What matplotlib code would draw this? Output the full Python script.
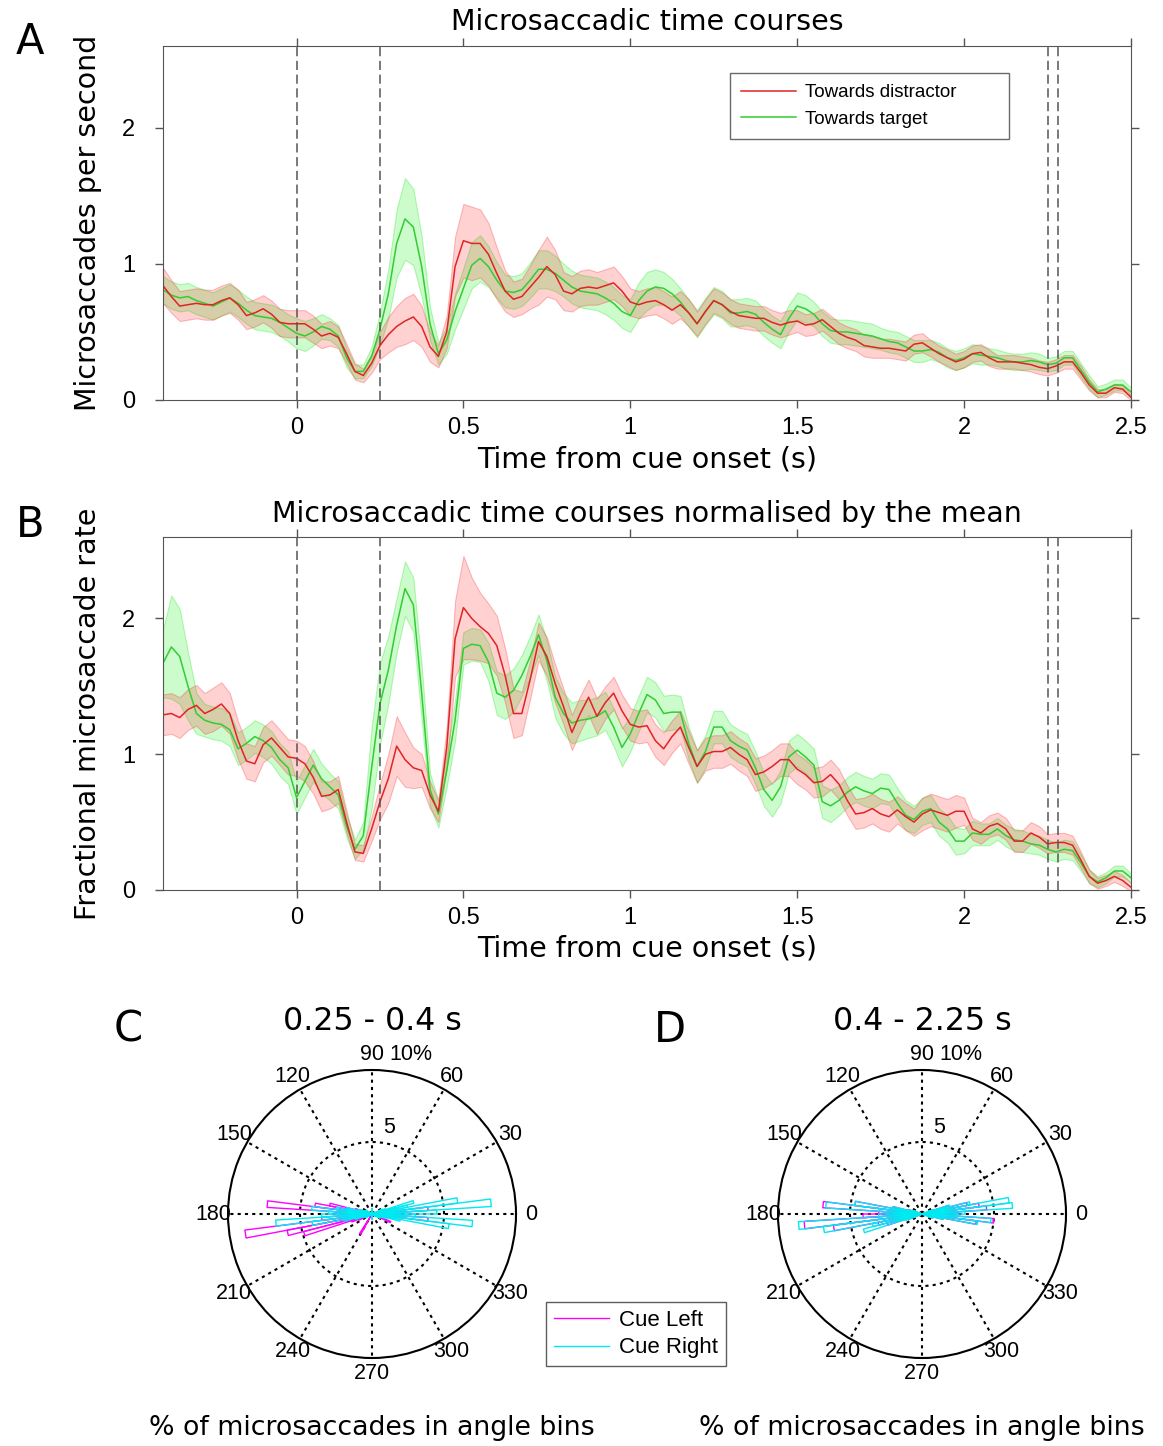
import numpy as np
import matplotlib
matplotlib.use('Agg')
import matplotlib.pyplot as plt
from matplotlib.lines import Line2D

# time axis of the time courses (s from cue onset)
t = np.round(np.arange(-0.4, 2.5 + 1e-9, 0.025), 3)
event_times = [0, 0.25, 2.25, 2.28]

# --- panel A: microsaccades per second (one row = 0.1 s) ---
rate_distractor = [
    0.84, 0.76, 0.69, 0.70,  0.71, 0.70, 0.70, 0.73,  0.75, 0.70, 0.62, 0.64,
    0.67, 0.63, 0.57, 0.56,  0.56, 0.56, 0.52, 0.47,  0.49, 0.46, 0.34, 0.21,
    0.18, 0.27, 0.40, 0.48,  0.54, 0.58, 0.61, 0.54,  0.39, 0.32, 0.50, 0.98,
    1.17, 1.15, 1.15, 1.07,  0.93, 0.80, 0.74, 0.76,  0.83, 0.90, 0.98, 0.92,
    0.80, 0.78, 0.82, 0.83,  0.82, 0.84, 0.86, 0.80,  0.72, 0.70, 0.72, 0.73,
    0.70, 0.66, 0.70, 0.64,  0.56, 0.65, 0.73, 0.70,  0.65, 0.62, 0.61, 0.60,
    0.60, 0.57, 0.55, 0.57,  0.58, 0.55, 0.56, 0.59,  0.54, 0.49, 0.46, 0.44,
    0.40, 0.39, 0.38, 0.38,  0.37, 0.36, 0.41, 0.42,  0.38, 0.34, 0.31, 0.28,
    0.30, 0.34, 0.35, 0.31,  0.28, 0.28, 0.28, 0.27,  0.26, 0.24, 0.23, 0.25,
    0.28, 0.28, 0.20, 0.11,  0.05, 0.05, 0.09, 0.08,  0.02]
rate_distractor_sem = [
    0.13, 0.12, 0.11, 0.11,  0.11, 0.11, 0.11, 0.11,  0.11, 0.11, 0.10, 0.10,
    0.10, 0.10, 0.10, 0.10,  0.10, 0.10, 0.10, 0.09,  0.09, 0.08, 0.07, 0.06,
    0.05, 0.07, 0.10, 0.13,  0.15, 0.17, 0.17, 0.15,  0.11, 0.08, 0.12, 0.22,
    0.27, 0.27, 0.25, 0.23,  0.19, 0.15, 0.13, 0.13,  0.16, 0.20, 0.22, 0.18,
    0.14, 0.13, 0.13, 0.13,  0.12, 0.12, 0.12, 0.11,  0.10, 0.10, 0.10, 0.10,
    0.10, 0.10, 0.10, 0.10,  0.09, 0.09, 0.09, 0.09,  0.09, 0.09, 0.09, 0.09,
    0.09, 0.09, 0.09, 0.09,  0.08, 0.08, 0.08, 0.08,  0.08, 0.08, 0.08, 0.08,
    0.08, 0.08, 0.07, 0.07,  0.07, 0.07, 0.07, 0.07,  0.06, 0.06, 0.06, 0.06,
    0.06, 0.06, 0.06, 0.06,  0.05, 0.05, 0.05, 0.05,  0.05, 0.05, 0.05, 0.05,
    0.05, 0.05, 0.05, 0.04,  0.03, 0.03, 0.03, 0.03,  0.02]
rate_target = [
    0.81, 0.77, 0.75, 0.76,  0.73, 0.71, 0.69, 0.72,  0.75, 0.71, 0.66, 0.62,
    0.61, 0.60, 0.57, 0.53,  0.49, 0.47, 0.50, 0.54,  0.52, 0.47, 0.31, 0.21,
    0.21, 0.32, 0.52, 0.78,  1.15, 1.33, 1.27, 0.98,  0.56, 0.34, 0.44, 0.65,
    0.82, 0.99, 1.04, 0.98,  0.88, 0.80, 0.79, 0.81,  0.88, 0.96, 0.96, 0.93,
    0.88, 0.83, 0.80, 0.79,  0.78, 0.75, 0.71, 0.65,  0.62, 0.73, 0.80, 0.83,
    0.82, 0.78, 0.72, 0.64,  0.56, 0.65, 0.73, 0.70,  0.64, 0.64, 0.65, 0.63,
    0.57, 0.52, 0.48, 0.60,  0.69, 0.67, 0.63, 0.56,  0.51, 0.50, 0.50, 0.49,
    0.48, 0.47, 0.45, 0.43,  0.42, 0.39, 0.36, 0.36,  0.37, 0.35, 0.31, 0.29,
    0.31, 0.34, 0.33, 0.32,  0.31, 0.29, 0.28, 0.28,  0.29, 0.28, 0.26, 0.27,
    0.31, 0.31, 0.22, 0.13,  0.06, 0.08, 0.11, 0.11,  0.06]
rate_target_sem = [
    0.10, 0.10, 0.10, 0.10,  0.10, 0.10, 0.10, 0.10,  0.10, 0.10, 0.10, 0.10,
    0.10, 0.10, 0.10, 0.10,  0.11, 0.11, 0.10, 0.09,  0.08, 0.08, 0.07, 0.05,
    0.05, 0.07, 0.12, 0.18,  0.25, 0.30, 0.28, 0.22,  0.12, 0.08, 0.10, 0.13,
    0.15, 0.17, 0.17, 0.15,  0.13, 0.12, 0.12, 0.12,  0.13, 0.14, 0.14, 0.13,
    0.12, 0.12, 0.12, 0.12,  0.12, 0.12, 0.12, 0.12,  0.12, 0.13, 0.14, 0.13,
    0.12, 0.11, 0.10, 0.10,  0.10, 0.10, 0.10, 0.10,  0.10, 0.10, 0.10, 0.10,
    0.10, 0.10, 0.10, 0.10,  0.10, 0.10, 0.09, 0.09,  0.09, 0.09, 0.09, 0.09,
    0.09, 0.09, 0.08, 0.08,  0.08, 0.08, 0.08, 0.08,  0.07, 0.07, 0.07, 0.07,
    0.07, 0.07, 0.07, 0.06,  0.06, 0.06, 0.06, 0.06,  0.06, 0.06, 0.05, 0.05,
    0.05, 0.05, 0.05, 0.05,  0.04, 0.04, 0.04, 0.04,  0.03]

# --- panel B: rate normalised by the mean ---
frac_distractor = [
    1.29, 1.30, 1.27, 1.33,  1.36, 1.30, 1.33, 1.37,  1.30, 1.10, 0.95, 0.93,
    1.07, 1.12, 1.05, 0.98,  0.97, 0.93, 0.83, 0.69,  0.70, 0.74, 0.50, 0.28,
    0.27, 0.45, 0.65, 0.82,  1.06, 0.96, 0.90, 0.88,  0.70, 0.58, 1.05, 1.85,
    2.08, 2.00, 1.94, 1.89,  1.80, 1.58, 1.30, 1.30,  1.55, 1.83, 1.72, 1.52,
    1.35, 1.16, 1.30, 1.42,  1.28, 1.38, 1.45, 1.32,  1.22, 1.20, 1.21, 1.10,
    1.04, 1.13, 1.20, 1.05,  0.91, 1.00, 1.02, 1.02,  1.05, 1.00, 0.96, 0.85,
    0.87, 0.91, 0.96, 0.96,  0.89, 0.85, 0.79, 0.80,  0.85, 0.78, 0.66, 0.56,
    0.57, 0.60, 0.56, 0.54,  0.59, 0.54, 0.50, 0.56,  0.59, 0.57, 0.55, 0.58,
    0.58, 0.45, 0.42, 0.47,  0.49, 0.45, 0.36, 0.36,  0.42, 0.39, 0.34, 0.35,
    0.35, 0.33, 0.22, 0.10,  0.05, 0.07, 0.10, 0.07,  0.02]
frac_distractor_sem = [
    0.15, 0.15, 0.15, 0.15,  0.15, 0.15, 0.16, 0.16,  0.15, 0.14, 0.13, 0.13,
    0.13, 0.13, 0.13, 0.13,  0.13, 0.13, 0.12, 0.11,  0.10, 0.10, 0.08, 0.06,
    0.06, 0.09, 0.13, 0.18,  0.22, 0.20, 0.15, 0.12,  0.10, 0.08, 0.15, 0.28,
    0.38, 0.30, 0.25, 0.22,  0.22, 0.20, 0.18, 0.16,  0.14, 0.14, 0.14, 0.14,
    0.13, 0.13, 0.13, 0.13,  0.13, 0.12, 0.12, 0.12,  0.12, 0.12, 0.12, 0.12,
    0.12, 0.12, 0.12, 0.12,  0.12, 0.12, 0.12, 0.12,  0.12, 0.12, 0.12, 0.12,
    0.12, 0.12, 0.12, 0.12,  0.11, 0.11, 0.11, 0.11,  0.11, 0.11, 0.11, 0.11,
    0.11, 0.11, 0.11, 0.11,  0.10, 0.10, 0.10, 0.12,  0.12, 0.12, 0.12, 0.12,
    0.10, 0.08, 0.08, 0.08,  0.08, 0.08, 0.08, 0.08,  0.08, 0.08, 0.07, 0.07,
    0.07, 0.07, 0.06, 0.05,  0.04, 0.04, 0.04, 0.04,  0.03]
frac_target = [
    1.67, 1.79, 1.72, 1.50,  1.30, 1.25, 1.23, 1.22,  1.18, 1.04, 1.08, 1.13,
    1.10, 1.05, 0.96, 0.90,  0.68, 0.80, 0.92, 0.82,  0.76, 0.70, 0.47, 0.30,
    0.40, 0.90, 1.37, 1.62,  1.95, 2.22, 2.10, 1.45,  0.74, 0.56, 0.88, 1.25,
    1.78, 1.81, 1.80, 1.68,  1.45, 1.42, 1.47, 1.58,  1.72, 1.88, 1.69, 1.42,
    1.30, 1.23, 1.25, 1.26,  1.28, 1.32, 1.20, 1.05,  1.15, 1.30, 1.44, 1.40,
    1.30, 1.31, 1.31, 1.08,  0.91, 1.02, 1.20, 1.20,  1.10, 1.06, 1.03, 0.90,
    0.74, 0.66, 0.76, 0.98,  1.03, 0.98, 0.92, 0.65,  0.62, 0.66, 0.72, 0.76,
    0.73, 0.71, 0.75, 0.74,  0.64, 0.55, 0.52, 0.58,  0.60, 0.50, 0.45, 0.36,
    0.36, 0.42, 0.41, 0.41,  0.45, 0.40, 0.37, 0.36,  0.34, 0.33, 0.30, 0.28,
    0.30, 0.29, 0.20, 0.10,  0.06, 0.09, 0.14, 0.14,  0.09]
frac_target_sem = [
    0.25, 0.38, 0.35, 0.25,  0.15, 0.12, 0.12, 0.12,  0.12, 0.12, 0.12, 0.12,
    0.12, 0.12, 0.12, 0.12,  0.12, 0.12, 0.12, 0.11,  0.10, 0.10, 0.08, 0.07,
    0.10, 0.30, 0.30, 0.25,  0.20, 0.20, 0.20, 0.20,  0.12, 0.10, 0.12, 0.15,
    0.12, 0.12, 0.12, 0.14,  0.16, 0.16, 0.16, 0.15,  0.15, 0.15, 0.15, 0.15,
    0.15, 0.15, 0.15, 0.14,  0.14, 0.14, 0.14, 0.14,  0.13, 0.13, 0.13, 0.13,
    0.13, 0.13, 0.12, 0.12,  0.12, 0.12, 0.12, 0.12,  0.12, 0.12, 0.12, 0.12,
    0.12, 0.12, 0.12, 0.12,  0.12, 0.12, 0.12, 0.12,  0.12, 0.11, 0.11, 0.11,
    0.11, 0.11, 0.11, 0.11,  0.11, 0.11, 0.10, 0.10,  0.10, 0.10, 0.10, 0.10,
    0.09, 0.09, 0.08, 0.08,  0.08, 0.08, 0.08, 0.08,  0.07, 0.07, 0.07, 0.07,
    0.07, 0.07, 0.06, 0.05,  0.04, 0.04, 0.04, 0.04,  0.03]

# --- panels C, D: % of microsaccades per angle bin (bin centres in deg) ---
bin_width = 3.6
c_left_bins = [160.2, 163.8, 167.4, 171.0, 174.6, 178.2, 181.8, 185.4, 189.0,
               192.6, 196.2, 199.8, 203.4, 239.4, 1.8, 5.4, 9.0, 12.6, 358.2,
               354.6, 351.0, 336.6]
c_left_pct = [0.6, 1.2, 3.0, 4.0, 7.3, 2.5, 2.0, 3.5, 8.9,
              6.0, 4.9, 1.5, 1.0, 1.6, 2.0, 3.9, 1.5, 0.8, 1.5,
              3.9, 1.0, 1.4]
c_right_bins = [160.2, 163.8, 167.4, 171.0, 174.6, 178.2, 181.8, 185.4, 189.0,
                192.6, 196.2, 199.8, 1.8, 5.4, 9.0, 12.6, 16.2, 19.8, 23.4,
                358.2, 354.6, 351.0, 347.4, 343.8, 340.2, 333.0, 150.0, 210.0,
                88.2, 271.8]
c_right_pct = [0.8, 1.0, 1.8, 2.5, 4.2, 3.0, 3.5, 6.7, 4.2,
               2.0, 1.2, 0.6, 4.5, 8.3, 6.0, 2.5, 3.0, 1.0, 0.8,
               3.0, 7.0, 5.4, 2.0, 1.0, 0.6, 0.6, 0.5, 0.5,
               0.4, 0.4]
d_left_bins = [163.8, 167.4, 171.0, 174.6, 178.2, 181.8, 185.4, 189.0, 192.6,
               196.2, 199.8, 1.8, 5.4, 9.0, 12.6, 16.2, 358.2, 354.6, 351.0,
               347.4]
d_left_pct = [1.0, 2.0, 4.7, 6.9, 3.0, 4.1, 8.2, 6.2, 3.1,
              2.5, 1.0, 2.5, 4.5, 4.0, 3.2, 1.9, 2.0, 5.0, 3.8,
              1.5]
d_right_bins = [163.8, 167.4, 171.0, 174.6, 178.2, 181.8, 185.4, 189.0, 192.6,
                196.2, 199.8, 1.8, 5.4, 9.0, 12.6, 16.2, 358.2, 354.6, 351.0,
                347.4, 20.0, 340.0, 160.0, 200.0]
d_right_pct = [1.0, 2.1, 4.7, 6.7, 2.5, 3.0, 8.6, 6.9, 3.5,
               4.2, 1.2, 3.0, 6.3, 6.1, 3.4, 2.0, 2.5, 4.8, 3.9,
               1.5, 0.8, 0.8, 0.7, 0.7]

W, H = 1163, 1446
fig = plt.figure(figsize=(W / 100, H / 100), dpi=100)

RED = '#e02424'
GREEN = '#33cc33'
AX_COL = '#555555'
LAB_FS = 20.5


def draw_timecourse(ax, dist, dist_sem, targ, targ_sem, title, ylabel, title_y):
    dist, dist_sem = np.asarray(dist), np.asarray(dist_sem)
    targ, targ_sem = np.asarray(targ), np.asarray(targ_sem)
    ax.fill_between(t, targ - targ_sem, targ + targ_sem, facecolor=(0.1, 0.95, 0.1, 0.22),
                    edgecolor=(0.1, 0.9, 0.1, 0.3), lw=0.8)
    ax.fill_between(t, dist - dist_sem, dist + dist_sem, facecolor=(1, 0.1, 0.1, 0.2),
                    edgecolor=(0.95, 0.2, 0.2, 0.3), lw=0.8)
    l_t, = ax.plot(t, targ, color=GREEN, lw=1.1)
    l_d, = ax.plot(t, dist, color=RED, lw=1.1)
    for x in event_times:
        ax.axvline(x, color='#555555', ls=(0, (6, 3)), lw=1.1)
    ax.set_xlim(-0.4, 2.5)
    ax.set_ylim(0, 2.6)
    ax.set_xticks([0, 0.5, 1, 1.5, 2, 2.5])
    ax.set_xticklabels(['0', '0.5', '1', '1.5', '2', '2.5'])
    ax.set_yticks([0, 1, 2])
    ax.tick_params(direction='out', length=6, width=1, colors=AX_COL, labelcolor='black',
                   top=True, right=True, labelsize=17)
    ax.tick_params(axis='x', pad=6)
    ax.tick_params(axis='y', pad=14)
    for lab in ax.get_xticklabels() + ax.get_yticklabels():
        lab.set_family('Liberation Sans')
    for sp in ax.spines.values():
        sp.set_color(AX_COL)
    ax.set_xlabel('Time from cue onset (s)', fontsize=LAB_FS, va='center')
    ax.xaxis.set_label_coords(0.5, -0.167)
    ax.set_ylabel(ylabel, fontsize=LAB_FS, va='center')
    ax.yaxis.set_label_coords(-75 / 968, 0.5)
    ax.set_title(title, fontsize=LAB_FS, y=title_y, pad=0, va='center')
    return l_d, l_t


axA = fig.add_axes([163 / W, 1 - 400 / H, 968 / W, 354 / H])
l_d, l_t = draw_timecourse(axA, rate_distractor, rate_distractor_sem, rate_target,
                           rate_target_sem, 'Microsaccadic time courses',
                           'Microsaccades per second', 1 + 24 / 354)
axA.legend([l_d, l_t], ['Towards distractor', 'Towards target'], loc='upper left',
           bbox_to_anchor=(730 / W, 1 - 136 / H, 279 / W, 63 / H),
           bbox_transform=fig.transFigure, mode='expand',
           fancybox=False, edgecolor='#444444', handlelength=2.9, handletextpad=0.5,
           borderaxespad=0, borderpad=0.6, labelspacing=0.5,
           prop={'family': 'Liberation Sans', 'size': 13.5})

axB = fig.add_axes([163 / W, 1 - 890 / H, 968 / W, 353 / H])
draw_timecourse(axB, frac_distractor, frac_distractor_sem, frac_target, frac_target_sem,
                'Microsaccadic time courses normalised by the mean',
                'Fractional microsaccade rate', 1 + 23 / 353)


def draw_rose(ax, bins_l, pct_l, bins_r, pct_r, title):
    for bins, pct, col in [(bins_l, pct_l, '#ff00ff'), (bins_r, pct_r, '#00e8f0')]:
        for b, p in zip(bins, pct):
            th1 = np.deg2rad(b - bin_width / 2)
            th2 = np.deg2rad(b + bin_width / 2)
            ax.plot([0, th1, th2, 0], [0, p, p, 0], color=col, lw=1.0, zorder=3)
    ax.set_ylim(0, 10)
    ax.set_xticks(np.deg2rad(np.arange(0, 360, 30)))
    ax.set_xticklabels([])
    ax.set_yticks([5])
    ax.set_yticklabels([])
    ax.grid(True, color='black', ls=(0, (1.5, 2.0)), lw=1.5)
    ax.spines['polar'].set_linewidth(1.5)
    for a in range(0, 360, 30):
        ax.text(np.deg2rad(a), 11.05, str(a), ha='center', va='center', fontsize=15.5,
                family='Liberation Sans', clip_on=False)
    ax.text(np.deg2rad(79), 6.1, '5', ha='center', va='center', fontsize=15.5,
            family='Liberation Sans')
    ax.text(np.deg2rad(76.2), 11.37, '10%', ha='center', va='center', fontsize=15.5,
            family='Liberation Sans', clip_on=False)
    ax.text(0.5, 1 + 49 / 288, title, transform=ax.transAxes, ha='center', va='center',
            fontsize=22.8)
    ax.text(0.5, -70 / 288, '% of microsaccades in angle bins', transform=ax.transAxes,
            ha='center', va='center', fontsize=19.3)


axC = fig.add_axes([228 / W, 1 - 1358 / H, 288 / W, 288 / H], projection='polar')
draw_rose(axC, c_left_bins, c_left_pct, c_right_bins, c_right_pct, '0.25 - 0.4 s')
axD = fig.add_axes([778 / W, 1 - 1358 / H, 288 / W, 288 / H], projection='polar')
draw_rose(axD, d_left_bins, d_left_pct, d_right_bins, d_right_pct, '0.4 - 2.25 s')

fig.legend([Line2D([], [], color='#ff00ff', lw=1), Line2D([], [], color='#00e8f0', lw=1)],
           ['Cue Left', 'Cue Right'], loc='upper left',
           bbox_to_anchor=(546 / W, 1 - 1302 / H), fancybox=False, edgecolor='#333333',
           handlelength=2.5, borderaxespad=0, borderpad=0.35, labelspacing=0.3,
           handletextpad=0.45, prop={'family': 'Liberation Sans', 'size': 16})

for letter, x, y in [('A', 30, 42), ('B', 30, 525), ('C', 128, 1030), ('D', 670, 1030)]:
    fig.text(x / W, 1 - y / H, letter, fontsize=30, ha='center', va='center')

fig.savefig('out.png', dpi=100)
